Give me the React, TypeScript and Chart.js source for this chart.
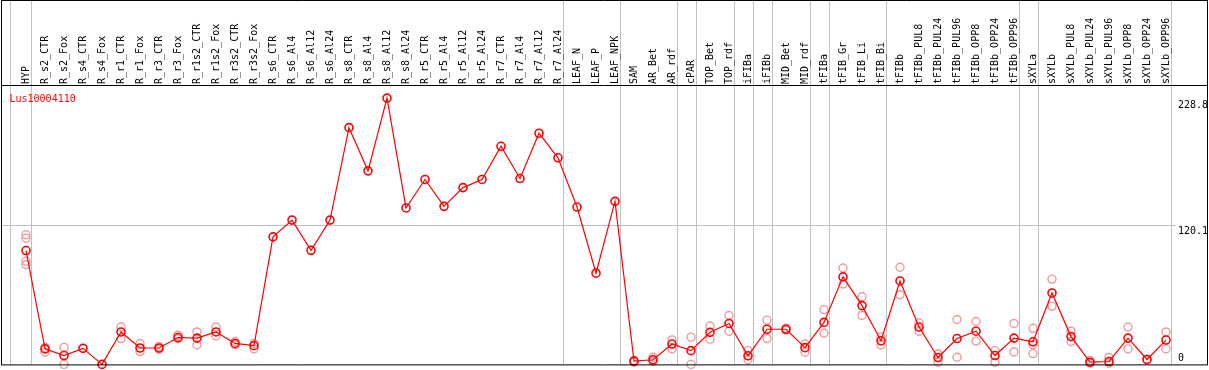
import React, { useEffect, useRef } from 'react';
import { Chart, registerables } from 'chart.js';

Chart.register(...registerables);

const title = 'Lus10004110';

const categories = [
  'HYP', 'R_s2_CTR', 'R_s2_Fox', 'R_s4_CTR', 'R_s4_Fox', 'R_r1_CTR', 'R_r1_Fox', 'R_r3_CTR', 'R_r3_Fox',
  'R_r1s2_CTR', 'R_r1s2_Fox', 'R_r3s2_CTR', 'R_r3s2_Fox', 'R_s6_CTR', 'R_s6_Al4', 'R_s6_Al12', 'R_s6_Al24',
  'R_s8_CTR', 'R_s8_Al4', 'R_s8_Al12', 'R_s8_Al24', 'R_r5_CTR', 'R_r5_Al4', 'R_r5_Al12', 'R_r5_Al24',
  'R_r7_CTR', 'R_r7_Al4', 'R_r7_Al12', 'R_r7_Al24', 'LEAF_N', 'LEAF_P', 'LEAF_NPK', 'SAM', 'AR_Bet', 'AR_rdf',
  'cPAR', 'TOP_Bet', 'TOP_rdf', 'iFIBa', 'iFIBb', 'MID_Bet', 'MID_rdf', 'tFIBa', 'tFIB_Gr', 'tFIB_Li', 'tFIB_Bi',
  'tFIBb', 'tFIBb_PUL8', 'tFIBb_PUL24', 'tFIBb_PUL96', 'tFIBb_OPP8', 'tFIBb_OPP24', 'tFIBb_OPP96',
  'sXYLa', 'sXYLb', 'sXYLb_PUL8', 'sXYLb_PUL24', 'sXYLb_PUL96', 'sXYLb_OPP8', 'sXYLb_OPP24', 'sXYLb_OPP96',
];

const meanValues = [
  97.8, 13.3, 7.6, 13.8, 0, 27.9, 14.1, 14.1, 23.1,
  22.6, 27.9, 18.0, 16.1, 109.6, 124.0, 98.0, 124.0,
  203.4, 166.3, 228.8, 134.4, 158.9, 135.8, 151.9, 158.9,
  187.4, 159.7, 198.6, 177.5, 135.2, 78.4, 140.1, 2.8, 4.0, 17.5,
  11.8, 27.6, 35.2, 7.4, 30.2, 30.2, 14.4, 36.1, 75.2, 50.5, 20.3,
  71.7, 32.1, 5.9, 22.2, 28.5, 7.6, 22.6,
  19.4, 61.4, 23.9, 1.9, 2.5, 22.6, 4.2, 20.9,
];

const replicateValues: number[][] = [
  [111.3, 108.4, 88.7, 85.6], [14.6, 10.4], [14.6, 0], [], [], [32.1, 22.2], [18.0, 11.0], [15.5, 13.0], [25.1, 22.0],
  [27.9, 16.9], [32.1, 24.5], [19.7, 17.0], [13.3, 18.0], [], [], [], [],
  [], [], [], [], [], [], [], [],
  [], [], [], [], [], [], [], [3.5, 2.0], [6.2, 2.5], [21.1, 13.3],
  [23.4, 0], [33.0, 21.7], [42.0, 28.5], [11.8, 4.0], [38.0, 22.2], [31.0, 29.5], [17.5, 10.4], [47.1, 26.8], [82.8, 69.1], [58.1, 42.0], [23.7, 16.7],
  [83.5, 59.8], [35.8, 28.5], [9.0, 1.9], [38.6, 6.2], [36.9, 20.0], [11.8, 1.9], [35.2, 10.7],
  [31.0, 16.9, 9.3], [73.3, 50.1], [28.5, 19.7], [3.4, 1.0], [5.9, 1.0], [32.1, 13.3], [4.2], [27.9, 13.3],
];

const yTickValues = [228.8, 120.1, 0];
const gridValue = 120.1;
const groupEnds = [0, 28, 31, 34, 35, 37, 38, 39, 41, 42, 45, 52, 53, 60];

const FONT = '10px "DejaVu Sans Mono", monospace';

export default function App() {
  const ref = useRef<HTMLCanvasElement>(null);

  useEffect(() => {
    document.body.style.margin = '0';
    const canvas = ref.current;
    if (!canvas) return;

    const framePlugin = {
      id: 'framePlugin',
      beforeDraw(chart: any) {
        const ctx = chart.ctx;
        const xs = chart.scales.x;
        const ys = chart.scales.y;
        const area = chart.chartArea;
        ctx.save();
        ctx.fillStyle = '#ffffff';
        ctx.fillRect(0, 0, chart.width, chart.height);
        ctx.strokeStyle = '#c0c0c0';
        ctx.lineWidth = 1;
        const x0 = Math.round(xs.getPixelForValue(0) - 16) + 0.5;
        ctx.beginPath();
        ctx.moveTo(x0, 0);
        ctx.lineTo(x0, area.bottom);
        ctx.stroke();
        groupEnds.forEach((i) => {
          const x = Math.round(xs.getPixelForValue(i) + 4.5) + 0.5;
          ctx.beginPath();
          ctx.moveTo(x, 0);
          ctx.lineTo(x, area.bottom);
          ctx.stroke();
        });
        const gy = Math.round(ys.getPixelForValue(gridValue)) + 0.5;
        ctx.beginPath();
        ctx.moveTo(1, gy);
        ctx.lineTo(area.right, gy);
        ctx.stroke();
        ctx.restore();
      },
      afterDraw(chart: any) {
        const ctx = chart.ctx;
        const ys = chart.scales.y;
        const area = chart.chartArea;
        const W = chart.width;
        ctx.save();
        ctx.strokeStyle = '#000000';
        ctx.lineWidth = 1;
        ctx.beginPath();
        ctx.moveTo(1.5, 0);
        ctx.lineTo(1.5, area.bottom + 0.5);
        ctx.moveTo(W - 1.5, 0);
        ctx.lineTo(W - 1.5, area.bottom + 0.5);
        ctx.moveTo(1, 0.5);
        ctx.lineTo(W - 1, 0.5);
        ctx.moveTo(1, Math.round(area.top) - 0.5);
        ctx.lineTo(W - 1, Math.round(area.top) - 0.5);
        ctx.moveTo(1, area.bottom + 0.5);
        ctx.lineTo(W - 1, area.bottom + 0.5);
        ctx.stroke();

        ctx.font = FONT;
        ctx.fillStyle = '#000000';
        ctx.textAlign = 'left';
        ctx.textBaseline = 'alphabetic';
        yTickValues.forEach((v) => {
          const y = ys.getPixelForValue(v);
          const ty = v === 0 ? y - 3.5 : y + 9.5;
          ctx.fillText(String(v), 1178, ty);
        });

        ctx.fillStyle = '#ff0000';
        ctx.fillText(title, 9.5, area.top + 15.5);
        ctx.restore();
      },
    };

    const replicatePoints: { x: string; y: number }[] = [];
    replicateValues.forEach((arr, i) => {
      arr.forEach((v) => replicatePoints.push({ x: categories[i], y: v }));
    });

    const chart = new Chart(canvas, {
      type: 'line',
      data: {
        labels: categories,
        datasets: [
          {
            label: title,
            data: meanValues,
            borderColor: '#ff0000',
            borderWidth: 1.2,
            pointRadius: 4,
            pointBorderWidth: 1.6,
            pointBorderColor: '#ff0000',
            pointBackgroundColor: 'rgba(0,0,0,0)',
            tension: 0,
            clip: false,
            order: 0,
          } as any,
          {
            type: 'scatter',
            label: 'replicates',
            data: replicatePoints,
            showLine: false,
            pointRadius: 4,
            pointBorderWidth: 1.4,
            pointBorderColor: '#ee9a9a',
            pointBackgroundColor: 'rgba(0,0,0,0)',
            clip: false,
            order: 1,
          } as any,
        ],
      },
      options: {
        responsive: false,
        animation: false,
        devicePixelRatio: 1,
        layout: { padding: { left: 16.5, right: 33.5, top: 0, bottom: 1 } },
        plugins: {
          legend: { display: false },
          tooltip: { enabled: false },
          title: { display: false },
        },
        scales: {
          x: {
            type: 'category',
            position: 'top',
            offset: true,
            grid: { display: false, drawTicks: false, tickLength: 0 },
            border: { display: false },
            ticks: {
              autoSkip: false,
              maxRotation: 90,
              minRotation: 90,
              padding: 2,
              labelOffset: 12,
              color: '#000000',
              font: { family: '"DejaVu Sans Mono", monospace', size: 10 },
            },
            afterFit: (s: any) => {
              s.height = 86;
            },
          },
          y: {
            display: false,
            min: 0,
            max: 239.2,
          },
        },
      },
      plugins: [framePlugin],
    });

    return () => chart.destroy();
  }, []);

  return <canvas ref={ref} width={1209} height={370} style={{ display: 'block' }} />;
}
